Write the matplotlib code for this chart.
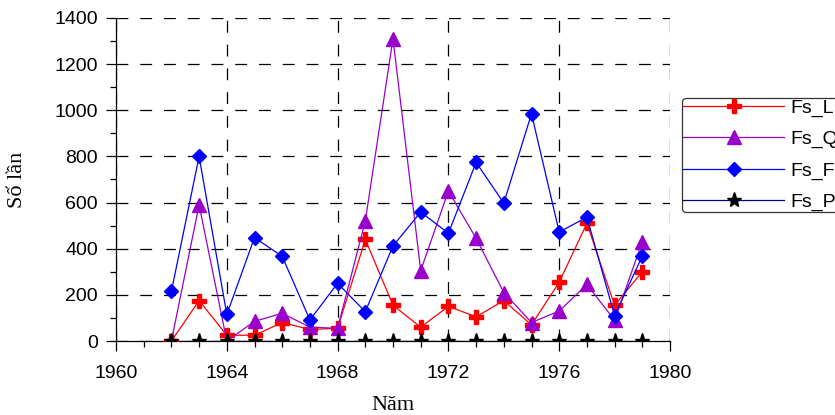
import matplotlib
matplotlib.use("Agg")
import matplotlib.pyplot as plt
from matplotlib.ticker import MultipleLocator

years = list(range(1962, 1980))
fs_l = [0, 175, 25, 25, 80, 50, 55, 440, 155, 60, 150, 105, 175, 70, 255, 510, 155, 300]
fs_q = [0, 590, 0, 85, 120, 60, 55, 520, 1310, 305, 650, 445, 210, 80, 130, 245, 90, 430]
fs_f = [215, 800, 115, 448, 367, 91, 250, 127, 412, 559, 467, 774, 598, 985, 472, 537, 110, 368]
fs_p = [0] * len(years)

series_names = ["Fs_L", "Fs_Q", "Fs_F", "Fs_P"]
x_label = "Năm"
y_label = "Số lần"

fig = plt.figure(figsize=(8.35, 4.15), dpi=100)
ax = fig.add_axes([116/835, 1-341/415, (670-116)/835, (341-18)/415])

ax.plot(years, fs_l, color="#FF0000", lw=0.9, marker="P", ms=10, mec="#FF0000", mfc="#FF0000", label=series_names[0], zorder=3)
ax.plot(years, fs_q, color="#9900CC", lw=0.9, marker="^", ms=10, mec="#9900CC", mfc="#9900CC", label=series_names[1], zorder=4)
ax.plot(years, fs_f, color="#0000FF", lw=0.9, marker="D", ms=7.5, mec="#0000FF", mfc="#0000FF", label=series_names[2], zorder=5)
ax.plot(years, fs_p, color="#000080", lw=0.9, marker="*", ms=11, mec="black", mfc="black", label=series_names[3], zorder=6)

ax.set_xlim(1960, 1980)
ax.set_ylim(0, 1400)
ax.xaxis.set_major_locator(MultipleLocator(4))
ax.xaxis.set_minor_locator(MultipleLocator(1))
ax.yaxis.set_major_locator(MultipleLocator(200))
ax.yaxis.set_minor_locator(MultipleLocator(100))

for s in ["top", "right"]:
    ax.spines[s].set_visible(False)
for s in ["left", "bottom"]:
    ax.spines[s].set_linewidth(0.9)
    ax.spines[s].set_color("black")

ax.tick_params(which="major", direction="out", length=7, width=0.9, labelsize=14, colors="black")
ax.tick_params(which="minor", direction="out", length=4, width=0.9)
ax.tick_params(axis="x", which="major", pad=10)
ax.tick_params(axis="y", which="major", pad=6)
for lab in ax.get_xticklabels() + ax.get_yticklabels():
    lab.set_fontfamily("Liberation Sans")

ax.grid(True, which="major", color="black", lw=0.9, linestyle=(0, (9.5, 9.5)))
ax.set_axisbelow(True)

ax.set_xlabel(x_label, fontsize=16, family="Liberation Serif", labelpad=10)
ax.set_ylabel(y_label, fontsize=16, family="Liberation Serif", labelpad=20)

leg = ax.legend(loc="upper left", bbox_to_anchor=(682/835, 1-98/415), bbox_transform=fig.transFigure,
                prop={"family": "Liberation Sans", "size": 14}, borderpad=0.05, borderaxespad=0,
                handlelength=5.2, handletextpad=0.3, labelspacing=0.7, fancybox=True,
                edgecolor="#333333", framealpha=1)
leg.get_frame().set_linewidth(0.9)

fig.savefig("out.png", dpi=100)
